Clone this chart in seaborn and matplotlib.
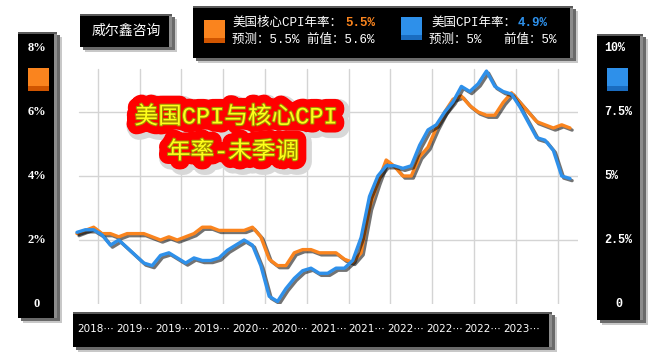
import pandas as pd
import matplotlib
matplotlib.use('Agg')
import matplotlib.pyplot as plt
import matplotlib.patheffects as pe
import matplotlib.transforms as mtrans
from matplotlib.patches import Rectangle
import seaborn as sns

# 数据: 2018-05 ~ 2023-04 美国CPI / 核心CPI 年率 (未季调)
months = pd.period_range('2018-05', '2023-04', freq='M').astype(str).tolist()
core_cpi = [2.2, 2.3, 2.4, 2.2, 2.2, 2.1, 2.2, 2.2,
            2.2, 2.1, 2.0, 2.1, 2.0, 2.1, 2.2, 2.4, 2.4, 2.3, 2.3, 2.3,
            2.3, 2.4, 2.1, 1.4, 1.2, 1.2, 1.6, 1.7, 1.7, 1.6, 1.6, 1.6,
            1.4, 1.3, 1.6, 3.0, 3.8, 4.5, 4.3, 4.0, 4.0, 4.6, 4.9, 5.5,
            6.0, 6.4, 6.5, 6.2, 6.0, 5.9, 5.9, 6.3, 6.6, 6.3, 6.0, 5.7,
            5.6, 5.5, 5.6, 5.5]
cpi = [2.8, 2.9, 2.9, 2.7, 2.3, 2.5, 2.2, 1.9,
       1.6, 1.5, 1.9, 2.0, 1.8, 1.6, 1.8, 1.7, 1.7, 1.8, 2.1, 2.3,
       2.5, 2.3, 1.5, 0.3, 0.1, 0.6, 1.0, 1.3, 1.4, 1.2, 1.2, 1.4,
       1.4, 1.7, 2.6, 4.2, 5.0, 5.4, 5.4, 5.3, 5.4, 6.2, 6.8, 7.0,
       7.5, 7.9, 8.5, 8.3, 8.6, 9.1, 8.5, 8.3, 8.2, 7.7, 7.1, 6.5,
       6.4, 6.0, 5.0, 4.9]
x_labels = ['2018⋯', '2019⋯', '2019⋯', '2019⋯', '2020⋯', '2020⋯',
            '2021⋯', '2021⋯', '2022⋯', '2022⋯', '2022⋯', '2023⋯']
left_vals = [0, 2, 4, 6, 8]
left_labels = ['0', '2%', '4%', '6%', '8%']
right_vals = [0, 2.5, 5, 7.5, 10]
right_labels = ['0', '2.5%', '5%', '7.5%', '10%']
core_name, core_now, core_fc, core_prev = '美国核心CPI年率：', '5.5%', '5.5%', '5.6%'
cpi_name, cpi_now, cpi_fc, cpi_prev = '美国CPI年率：', '4.9%', '5%', '5%'

ORANGE = '#fa841e'
BLUE = '#2e90ea'
MONO_CJK = ['Liberation Mono', 'Noto Sans CJK SC']

df = pd.DataFrame({'month': months, 'core': core_cpi, 'cpi': cpi})
df['idx'] = range(len(df))

sns.set_style('white')
plt.rcParams['font.family'] = ['Noto Sans CJK SC', 'DejaVu Sans']

W, H = 654, 358
fig = plt.figure(figsize=(W / 100, H / 100), dpi=100)
fig.patch.set_facecolor('white')

# 主图区
ax = fig.add_axes([68.6 / W, 54 / H, (578.4 - 68.6) / W, 256 / H])
ax.set_xlim(-1, 60)
ax.set_ylim(0, 8)
ax2 = ax.twinx()
ax2.set_ylim(0, 10)

for v in [2, 4, 6]:
    ax.axhline(v, xmin=0.02, xmax=1, color='#d4d4d4', lw=1, zorder=0)
for i in range(12):
    ax.axvline(2.5 + 5 * i, ymin=0, ymax=0.918, color='#d4d4d4', lw=1, zorder=0)

shadow = [pe.SimpleLineShadow(offset=(1.5, -1.5), shadow_color='black', alpha=0.55),
          pe.Normal()]
sns.lineplot(data=df, x='idx', y='core', ax=ax, color=ORANGE, lw=2.4,
             path_effects=shadow, zorder=3)
sns.lineplot(data=df, x='idx', y='cpi', ax=ax2, color=BLUE, lw=2.4,
             path_effects=shadow, zorder=3)
for a in (ax, ax2):
    a.set_facecolor('none')
    for s in a.spines.values():
        s.set_visible(False)
    a.set_xlabel('')
    a.set_ylabel('')
    a.set_yticks([])
    a.set_xticks([])

# 覆盖层 (像素坐标)
ov = fig.add_axes([0, 0, 1, 1], zorder=5)
ov.set_xlim(0, W)
ov.set_ylim(H, 0)
ov.axis('off')
ov.patch.set_alpha(0)


def box(x0, y0, x1, y1):
    ov.add_patch(Rectangle((x0 + 5, y0 + 5), x1 - x0, y1 - y0, color='#c8c8c8', lw=0))
    ov.add_patch(Rectangle((x0 + 3, y0 + 3), x1 - x0, y1 - y0, color='#6a6a6a', lw=0))
    ov.add_patch(Rectangle((x0, y0), x1 - x0, y1 - y0, color='black', lw=0))
    ov.add_patch(Rectangle((x1 - 3, y0), 3, y1 - y0, color='#8c8c8c', lw=0))
    ov.add_patch(Rectangle((x0, y0), x1 - x0, 2, color='#5a5a5a', lw=0))


def swatch(x0, y0, c_top, c_bot):
    ov.add_patch(Rectangle((x0, y0), 21, 23, color=c_top, lw=0))
    ov.add_patch(Rectangle((x0, y0 + 18), 21, 5, color=c_bot, lw=0))


# 左轴框
box(18, 32, 57, 318)
swatch(28, 68, ORANGE, '#d05500')
tl = mtrans.blended_transform_factory(ov.transData, ax.transData)
for v, s in zip(left_vals, left_labels):
    ov.text(37, v, s, transform=tl, color='white', ha='center', va='center',
            fontsize=9, fontweight='bold', family='Liberation Serif')

# 右轴框
box(597, 34, 643, 320)
swatch(607, 68, BLUE, '#1a6cc0')
tr = mtrans.blended_transform_factory(ov.transData, ax2.transData)
for v, s in zip(right_vals, right_labels):
    ov.text(604 if s != '0' else 615, v, s, transform=tr, color='white', ha='left',
            va='center', fontsize=8.5, fontweight='bold', family='Liberation Mono')

# 水印
box(80, 14, 172, 47)
ov.text(126, 31, '威尔鑫咨询', color='white', ha='center', va='center', fontsize=10)

# 图例框
box(193, 6, 573, 58)
swatch(204, 20, ORANGE, '#d05500')
ov.text(232, 23, core_name, color='white', ha='left', va='center', fontsize=9,
        family=MONO_CJK)
ov.text(345, 23, core_now, color=ORANGE, ha='left', va='center', fontsize=9,
        fontweight='bold', family='Liberation Mono')
ov.text(232, 40, '预测：' + core_fc + ' 前值：' + core_prev, color='white',
        ha='left', va='center', fontsize=9, family=MONO_CJK)
swatch(401, 17, BLUE, '#1a6cc0')
ov.text(431, 23, cpi_name, color='white', ha='left', va='center', fontsize=9,
        family=MONO_CJK)
ov.text(518, 23, cpi_now, color=BLUE, ha='left', va='center', fontsize=9,
        fontweight='bold', family='Liberation Mono')
ov.text(429, 40, '预测：' + cpi_fc + '   前值：' + cpi_prev, color='white',
        ha='left', va='center', fontsize=9, family=MONO_CJK)

# 底部日期框
box(73, 312, 552, 347)
for i, s in enumerate(x_labels):
    ov.text(96 + 38.7 * i, 329, s, color='white', ha='center', va='center',
            fontsize=7.5, family='DejaVu Sans')

# 标题
title_fx = [pe.Stroke(linewidth=17, foreground='#d8d8d8', offset=(2, -2)),
            pe.Stroke(linewidth=13, foreground='#ff0000'),
            pe.Stroke(linewidth=1.5, foreground='#a09000'),
            pe.Normal()]
ov.text(236, 117, '美国CPI与核心CPI', color='#ffff1a', ha='center', va='center',
        fontsize=17, family=MONO_CJK, path_effects=title_fx)
ov.text(233, 152, '年率-未季调', color='#ffff1a', ha='center', va='center',
        fontsize=17, family=MONO_CJK, path_effects=title_fx)

fig.savefig('out.png', dpi=100)
